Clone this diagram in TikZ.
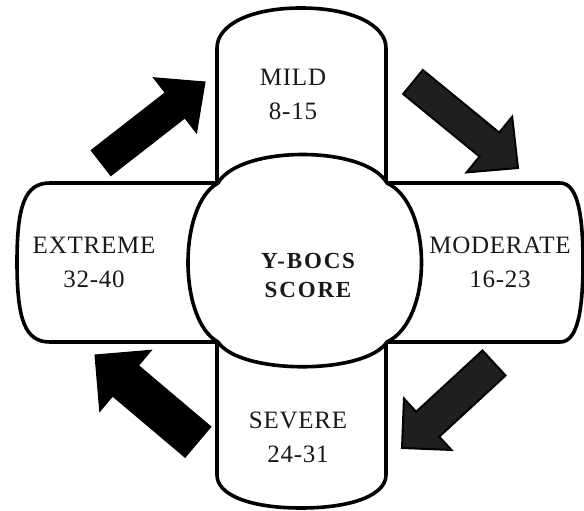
\documentclass[tikz,border=0pt]{standalone}
\usepackage{fontspec}
\setmainfont{Liberation Serif}
\newfontfamily\lblfont[LetterSpace=3]{Liberation Serif}
\newfontfamily\hubfont[LetterSpace=8]{Liberation Serif}
\usetikzlibrary{calc}
\newcommand\blockarrow[6]{%
  \coordinate (#1-h) at ($(#2)!#5!(#1)$);
  \draw[#6] ($(#1)!#3!90:(#2)$) -- ($(#1-h)!#3!90:(#2)$) -- ($(#1-h)!#4!90:(#2)$) -- (#2)
    -- ($(#1-h)!#4!-90:(#2)$) -- ($(#1-h)!#3!-90:(#2)$) -- ($(#1)!#3!-90:(#2)$) -- cycle;
}
\tikzset{
  outline/.style={draw=black, line width=3.6pt, fill=white, line join=round},
  hub/.style={draw=black, line width=3.6pt, fill=white, line join=miter, miter limit=10},
  lbl/.style={font=\lblfont\fontsize{25}{34}\selectfont, align=center, inner sep=0pt, text=black!90},
  hublbl/.style={font=\hubfont\bfseries\fontsize{23}{29}\selectfont, align=center, inner sep=0pt, text=black!90},
  blackarrow/.style={fill=black, draw=black, line width=1pt, line join=miter},
  greyarrow/.style={fill=black!88, draw=black, line width=2pt, line join=miter}
}
\begin{document}
\begin{tikzpicture}[x=1pt, y=-1pt]
\useasboundingbox (0,0) rectangle (584,511);
\fill[white] (0,0) rectangle (584,511);
% cross-shaped outline of the four tabs
\draw[outline] (217,183) -- (217,48)
  .. controls (217,25) and (250,8) .. (301,8)
  .. controls (352,8) and (386,25) .. (386,48)
  -- (386,183) -- (560,183)
  .. controls (575,183) and (583,205) .. (583,262)
  .. controls (583,320) and (575,342) .. (560,342)
  -- (386,342) -- (386,475)
  .. controls (386,495) and (352,508) .. (301,508)
  .. controls (250,508) and (217,495) .. (217,475)
  -- (217,342) -- (50,342)
  .. controls (25,342) and (17,320) .. (17,262)
  .. controls (17,205) and (25,183) .. (50,183)
  -- cycle;
% central hub
\draw[hub] (218,183)
  .. controls (240,145) and (365,145) .. (387,183)
  .. controls (433,205) and (433,320) .. (387,342)
  .. controls (365,375) and (240,375) .. (218,342)
  .. controls (178,320) and (178,205) .. (218,183)
  -- cycle;
% labels
\node[lbl] (mild) at (293,94) {MILD\\8-15};
\node[lbl] (moderate) at (500,262) {MODERATE\\16-23};
\node[lbl] (severe) at (298,437) {SEVERE\\24-31};
\node[lbl] (extreme) at (94,262) {EXTREME\\32-40};
\node[hublbl] (hubtext) at (308,275) {Y-BOCS\\SCORE};
% block arrows
\coordinate (a1t) at (101,163); \coordinate (a1p) at (205,82);
\coordinate (a2t) at (413,82);  \coordinate (a2p) at (518,168);
\coordinate (a3t) at (494,363); \coordinate (a3p) at (402,448);
\coordinate (a4t) at (198,442); \coordinate (a4p) at (95,355);
\blockarrow{a1t}{a1p}{16pt}{35pt}{38pt}{blackarrow}
\blockarrow{a2t}{a2p}{15.5pt}{36pt}{37pt}{greyarrow}
\blockarrow{a3t}{a3p}{17pt}{35pt}{35pt}{greyarrow}
\blockarrow{a4t}{a4p}{20pt}{40pt}{40pt}{blackarrow}
\end{tikzpicture}
\end{document}
